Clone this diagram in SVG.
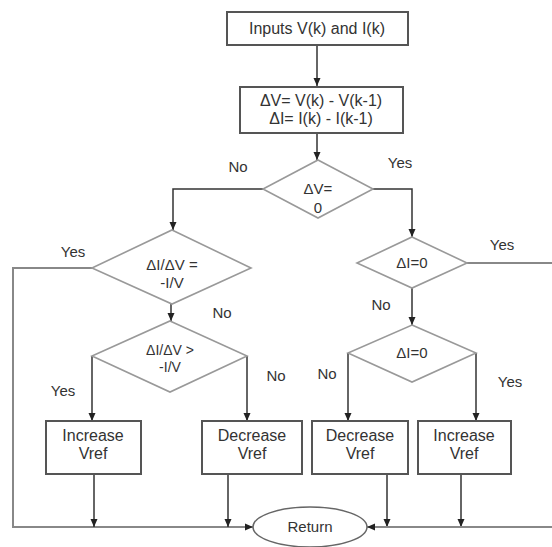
<svg xmlns="http://www.w3.org/2000/svg" width="552" height="547" viewBox="0 0 552 547">
<defs>
<marker id="arr" markerUnits="userSpaceOnUse" markerWidth="8" markerHeight="8" viewBox="0 0 8 8" refX="8" refY="4" orient="auto">
<path d="M0,0.5 L8,4 L0,7.5 z" fill="#222"/>
</marker>
</defs>
<style>
text{font-family:"Liberation Sans",Arial,sans-serif;font-size:15px;fill:#333;text-anchor:middle}
.big{font-size:16px}
.sm{font-size:14px}
.box{fill:#fff;stroke:#555;stroke-width:2}
.dia{fill:#fff;stroke:#999;stroke-width:1.6}
.ln{fill:none;stroke:#333;stroke-width:1.5}
.lg{fill:none;stroke:#888;stroke-width:2}
</style>
<rect width="552" height="547" fill="#fff"/>
<g id="connectors">
<path class="ln" d="M317,45 V86" marker-end="url(#arr)"/>
<path class="ln" d="M317,133 V160" marker-end="url(#arr)"/>
<path class="ln" d="M263,189 H173 V230" marker-end="url(#arr)"/>
<path class="ln" d="M373,189 H412 V237" marker-end="url(#arr)"/>
<path class="lg" d="M92,268 H13 V527 H253" marker-end="url(#arr)"/>
<path class="ln" d="M171,304 V321" marker-end="url(#arr)"/>
<path class="ln" d="M92,356 V421" marker-end="url(#arr)"/>
<path class="ln" d="M247,356 V421" marker-end="url(#arr)"/>
<path class="ln" d="M94,474 V527" marker-end="url(#arr)"/>
<path class="ln" d="M228,474 V527" marker-end="url(#arr)"/>
<path class="lg" d="M467,263 H552"/>
<path class="ln" d="M412,288 V325" marker-end="url(#arr)"/>
<path class="ln" d="M348,353 V421" marker-end="url(#arr)"/>
<path class="ln" d="M476,353 V421" marker-end="url(#arr)"/>
<path class="ln" d="M387,474 V527" marker-end="url(#arr)"/>
<path class="ln" d="M461,474 V527" marker-end="url(#arr)"/>
<path class="lg" d="M552,527 H367" marker-end="url(#arr)"/>
<text x="238" y="172">No</text>
<text x="400" y="168">Yes</text>
<text x="73" y="257">Yes</text>
<text x="222" y="318">No</text>
<text x="63" y="396">Yes</text>
<text x="276" y="381">No</text>
<text x="502" y="250">Yes</text>
<text x="381" y="310">No</text>
<text x="327" y="379">No</text>
<text x="510" y="387">Yes</text>
</g>
<g id="inputs">
<rect class="box" x="227" y="12" width="181" height="33"/>
<text class="big" x="317" y="34">Inputs V(k) and I(k)</text>
</g>
<g id="deltas">
<rect class="box" x="240" y="87" width="163" height="46"/>
<text class="big" x="321" y="106">ΔV= V(k) - V(k-1)</text>
<text class="big" x="321" y="124">ΔI= I(k) - I(k-1)</text>
</g>
<g id="dv0">
<polygon class="dia" points="318,160 373,189 318,218 263,189"/>
<text x="318" y="194">ΔV=</text>
<text x="318" y="213">0</text>
</g>
<g id="ratio_eq">
<polygon class="dia" points="172,230 251,268 172,304 92,268"/>
<text x="172" y="270">ΔI/ΔV =</text>
<text x="172" y="288">-I/V</text>
</g>
<g id="ratio_gt">
<polygon class="dia" points="170,321 247,356 170,392 92,356"/>
<text class="sm" x="170" y="355">ΔI/ΔV &gt;</text>
<text class="sm" x="170" y="372">-I/V</text>
</g>
<g id="inc_left">
<rect class="box" x="46" y="421" width="95" height="53"/>
<text class="big" x="93" y="441">Increase</text>
<text class="big" x="93" y="459">Vref</text>
</g>
<g id="dec_left">
<rect class="box" x="202" y="421" width="100" height="53"/>
<text class="big" x="252" y="441">Decrease</text>
<text class="big" x="252" y="459">Vref</text>
</g>
<g id="di0_a">
<polygon class="dia" points="412,237 467,263 412,288 357,263"/>
<text x="412" y="268">ΔI=0</text>
</g>
<g id="di0_b">
<polygon class="dia" points="412,325 476,353 412,382 348,353"/>
<text x="412" y="358">ΔI=0</text>
</g>
<g id="dec_right">
<rect class="box" x="312" y="421" width="96" height="53"/>
<text class="big" x="360" y="441">Decrease</text>
<text class="big" x="360" y="459">Vref</text>
</g>
<g id="inc_right">
<rect class="box" x="418" y="421" width="93" height="53"/>
<text class="big" x="464" y="441">Increase</text>
<text class="big" x="464" y="459">Vref</text>
</g>
<g id="return">
<ellipse cx="310" cy="527" rx="57" ry="20" fill="#fff" stroke="#666" stroke-width="1.5"/>
<text x="310" y="532">Return</text>
</g>
</svg>
